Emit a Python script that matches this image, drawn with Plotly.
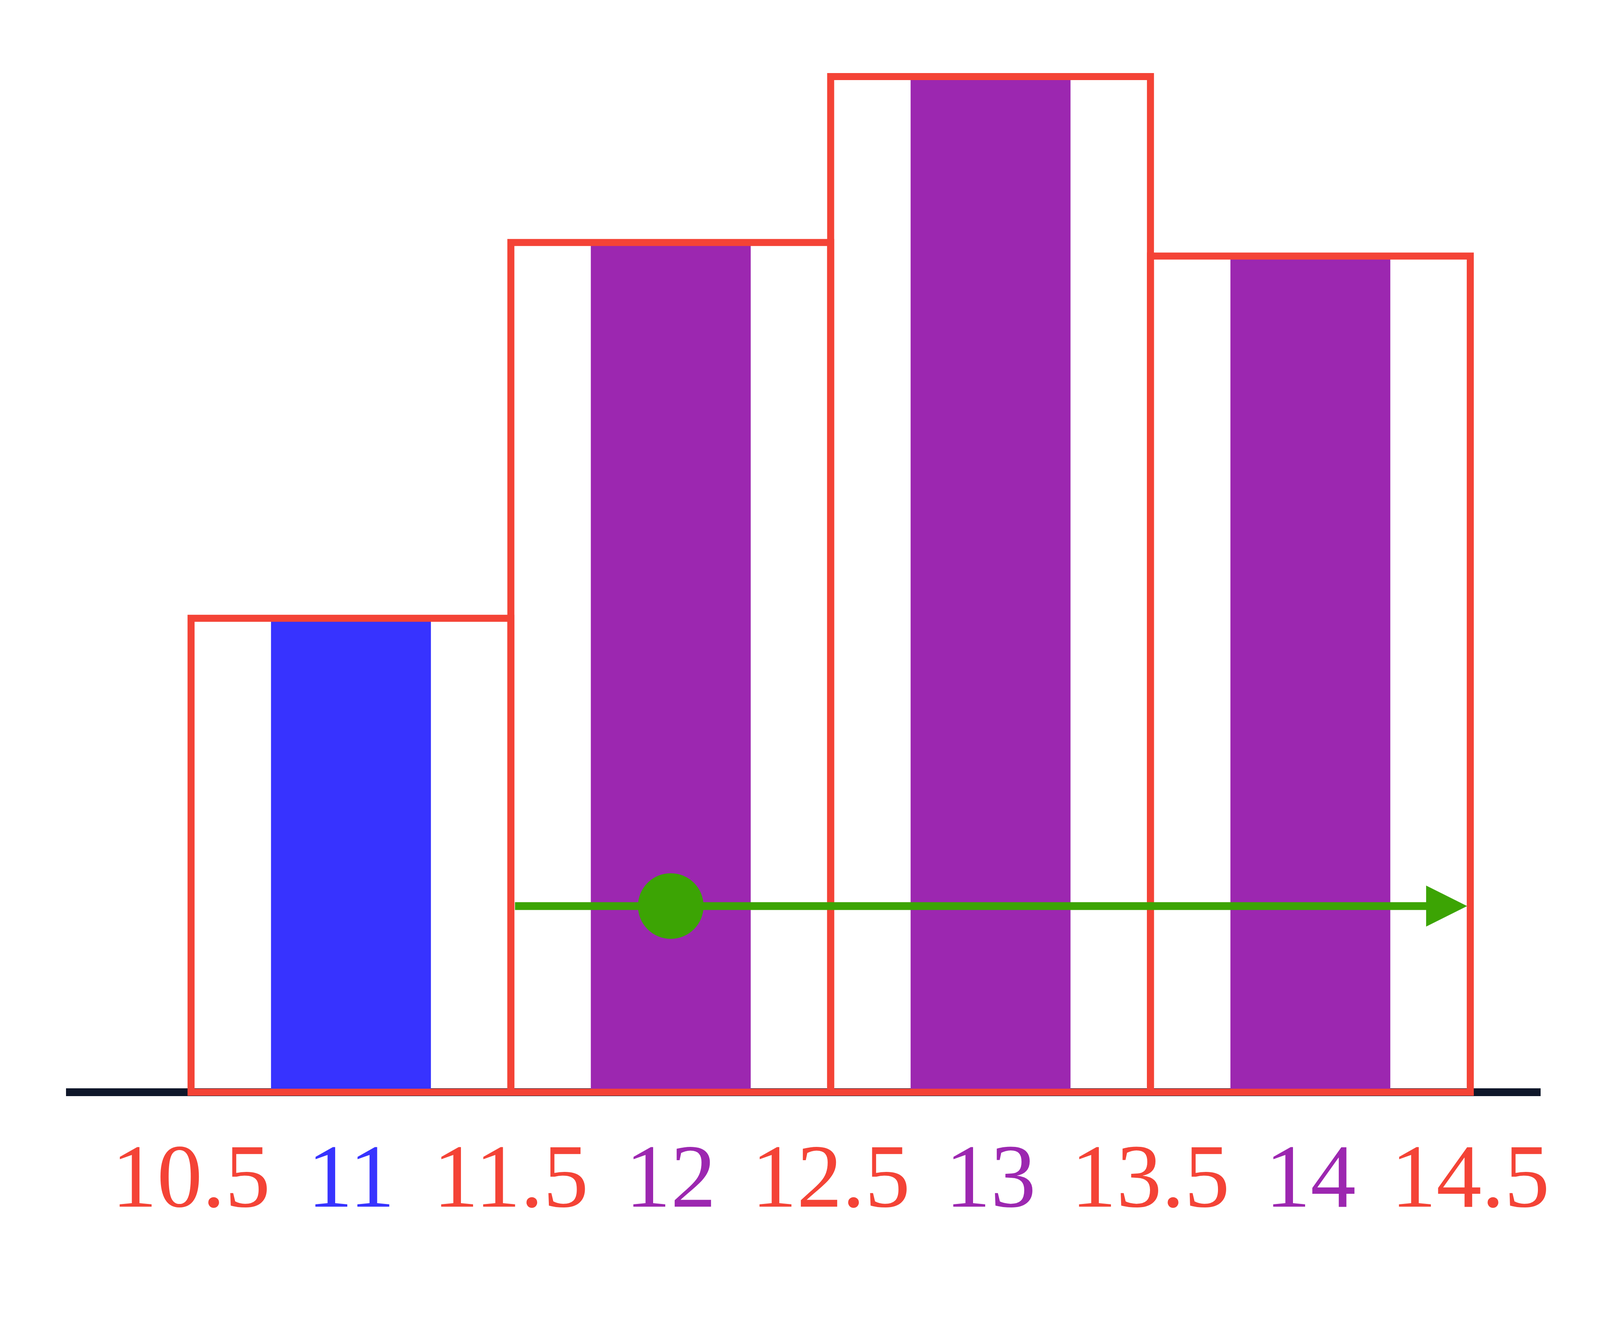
import plotly.graph_objects as go

# values
bin_centers = [11, 12, 13, 14]
freq = [14.0, 25.1, 30.0, 24.7]
bin_colors = ['#3733FF', '#9C27B0', '#9C27B0', '#9C27B0']

tick_vals = [10.5, 11, 11.5, 12, 12.5, 13, 13.5, 14, 14.5]
tick_text = ['10.5', '11', '11.5', '12', '12.5', '13', '13.5', '14', '14.5']
tick_colors = ['#F44336', '#3733FF', '#F44336', '#9C27B0', '#F44336',
               '#9C27B0', '#F44336', '#9C27B0', '#F44336']

arrow_start = 11.5
arrow_end = 14.5
arrow_level = 5.5
dot_x = 12

RED = '#F44336'
GREEN = '#3CA404'
AXIS = '#0F172A'

# the browser viewport is 4096 px wide, so the figure fills that
W, H = 4096, 3374

fig = go.Figure()

# coloured inner bars (half bin width)
fig.add_trace(go.Bar(x=bin_centers, y=freq, width=0.5,
                     marker=dict(color=bin_colors, line=dict(width=0)),
                     hoverinfo='skip', showlegend=False))

# red histogram outlines (full bin width)
fig.add_trace(go.Bar(x=bin_centers, y=freq, width=1,
                     marker=dict(color='rgba(0,0,0,0)', line=dict(color=RED, width=18)),
                     hoverinfo='skip', showlegend=False))

# green dot
fig.add_trace(go.Scatter(x=[dot_x], y=[arrow_level], mode='markers',
                         marker=dict(color=GREEN, size=168, line=dict(width=0)),
                         hoverinfo='skip', showlegend=False))

# green arrow
fig.add_annotation(x=arrow_end, y=arrow_level, ax=arrow_start, ay=arrow_level,
                   xref='x', yref='y', axref='x', ayref='y', text='',
                   showarrow=True, arrowhead=2, arrowsize=1.05, arrowwidth=20,
                   arrowcolor=GREEN, startstandoff=9, standoff=8)

# coloured tick labels
for v, t, c in zip(tick_vals, tick_text, tick_colors):
    fig.add_annotation(x=v, y=0, xref='x', yref='y', text=t, showarrow=False,
                       yanchor='top', xanchor='center', yshift=-84,
                       font=dict(family='Liberation Serif', size=232, color=c))

fig.update_layout(
    width=W, height=H,
    margin=dict(l=161, r=160, t=0, b=0),
    paper_bgcolor='white', plot_bgcolor='white',
    barmode='overlay',
    xaxis=dict(range=[10.109, 14.72], showgrid=False, zeroline=False,
               showticklabels=False, ticks='', showline=False),
    yaxis=dict(range=[-6.76, 32.17], showgrid=False, zeroline=True,
               zerolinecolor=AXIS, zerolinewidth=20,
               showticklabels=False, ticks='', showline=False),
)

fig.write_html("out.html")
